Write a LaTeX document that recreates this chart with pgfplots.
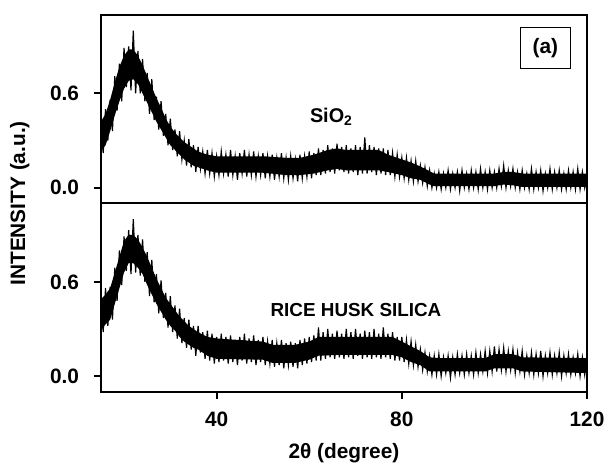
\documentclass[border=0pt]{standalone}
\usepackage{fontspec}
\setmainfont{Liberation Sans}
\usepackage{pgfplots}
\pgfplotsset{compat=1.18}
\usepgfplotslibrary{fillbetween}

% solid core of each noisy trace (upper / lower edge)
\pgfplotstableread{
x top bot
15 .42 .23
16 .47 .27
17 .56 .36
18 .67 .46
19 .77 .55
20 .84 .63
21 .88 .68
22 .88 .69
23 .84 .66
24 .78 .60
25 .71 .54
26 .64 .48
27 .57 .42
28 .51 .37
29 .44 .32
30 .39 .27
31 .35 .24
32 .32 .21
33 .29 .18
34 .27 .16
35 .25 .14
36 .23 .13
38 .21 .11
40 .20 .095
50 .20 .095
55 .19 .08
58 .19 .08
61 .21 .09
64 .24 .11
66 .25 .12
68 .24 .11
75 .24 .11
77 .21 .10
80 .18 .08
82 .16 .06
84 .135 .05
86 .105 .02
87 .09 .01
100 .09 .01
102 .10 .02
104 .10 .015
106 .09 .005
120 .09 .005
}\sioCore

\pgfplotstableread{
x top bot
15 .49 .29
16 .52 .33
17 .56 .36
18 .66 .46
19 .76 .56
20 .86 .66
21 .90 .72
22 .90 .72
23 .87 .69
24 .82 .65
25 .76 .58
26 .69 .52
27 .62 .46
28 .56 .41
29 .50 .36
30 .46 .32
31 .42 .29
32 .38 .25
33 .35 .22
34 .32 .20
35 .30 .18
36 .28 .17
38 .25 .13
40 .24 .11
50 .22 .105
52 .20 .085
57 .20 .085
60 .22 .105
62 .25 .13
66 .25 .135
78 .25 .135
80 .22 .12
82 .19 .09
84 .16 .07
86 .12 .03
88 .115 .03
98 .115 .03
100 .14 .05
104 .14 .05
106 .12 .03
120 .115 .02
}\rhsCore

% the noise around it: alternate peaks and dips
\pgfplotstableread{
x y
15.0 .43
15.5 .22
16.0 .50
16.5 .30
17.0 .56
17.5 .36
18.0 .71
18.5 .49
19.0 .79
19.5 .55
20.0 .89
20.5 .64
21.0 .90
21.5 .62
22.0 1.00
22.5 .60
23.0 .87
23.5 .60
24.0 .82
24.5 .55
25.0 .73
25.5 .47
26.0 .69
26.5 .43
27.0 .58
27.5 .37
28.0 .55
28.5 .33
29.0 .47
29.5 .27
30.0 .44
30.5 .24
31.0 .37
31.5 .20
32.0 .36
32.5 .18
33.0 .30
33.5 .14
34.0 .31
34.5 .13
35.0 .27
35.5 .10
36.0 .26
36.5 .12
37.0 .23
37.5 .09
38.0 .24
38.5 .09
39.0 .22
39.5 .07
40.0 .20
40.5 .08
41.0 .23
41.5 .09
42.0 .21
42.5 .07
43.0 .24
43.5 .08
44.0 .20
44.5 .05
45.0 .22
45.5 .09
46.0 .24
46.5 .07
47.0 .21
47.5 .08
48.0 .23
48.5 .07
49.0 .20
49.5 .08
50.0 .22
50.5 .06
51.0 .20
51.5 .07
52.0 .21
52.5 .05
53.0 .19
53.5 .07
54.0 .22
54.5 .06
55.0 .19
55.5 .05
56.0 .20
56.5 .06
57.0 .18
57.5 .04
58.0 .21
58.5 .06
59.0 .20
59.5 .07
60.0 .23
60.5 .06
61.0 .22
61.5 .08
62.0 .25
62.5 .08
63.0 .24
63.5 .09
64.0 .27
64.5 .10
65.0 .25
65.5 .09
66.0 .28
66.5 .11
67.0 .26
67.5 .10
68.0 .27
68.5 .09
69.0 .25
69.5 .10
70.0 .27
70.5 .08
71.0 .26
71.5 .09
72.0 .32
72.5 .09
73.0 .27
73.5 .10
74.0 .26
74.5 .08
75.0 .25
75.5 .09
76.0 .25
76.5 .08
77.0 .24
77.5 .08
78.0 .22
78.5 .07
79.0 .21
79.5 .07
80.0 .19
80.5 .06
81.0 .19
81.5 .05
82.0 .17
82.5 .04
83.0 .17
83.5 .04
84.0 .14
84.5 .03
85.0 .13
85.5 .01
86.0 .11
86.5 .00
87.0 .09
87.5 .00
88.0 .10
88.5 -.01
89.0 .09
89.5 .00
90.0 .11
90.5 -.01
91.0 .09
91.5 .00
92.0 .10
92.5 -.02
93.0 .11
93.5 .00
94.0 .09
94.5 -.01
95.0 .11
95.5 .00
96.0 .10
96.5 -.01
97.0 .12
97.5 .00
98.0 .10
98.5 -.01
99.0 .11
99.5 .00
100.0 .10
100.5 .00
101.0 .12
101.5 .01
102.0 .14
102.5 .00
103.0 .11
103.5 .01
104.0 .12
104.5 .00
105.0 .10
105.5 -.01
106.0 .11
106.5 .00
107.0 .09
107.5 -.01
108.0 .12
108.5 -.01
109.0 .10
109.5 .00
110.0 .11
110.5 -.02
111.0 .09
111.5 .00
112.0 .12
112.5 -.01
113.0 .10
113.5 .00
114.0 .11
114.5 -.01
115.0 .09
115.5 -.01
116.0 .11
116.5 .00
117.0 .10
117.5 -.01
118.0 .12
118.5 -.01
119.0 .10
119.5 .00
120.0 .09
}\sioNoise

\pgfplotstableread{
x y
15.0 .51
15.5 .28
16.0 .56
16.5 .32
17.0 .57
17.5 .36
18.0 .69
18.5 .48
19.0 .80
19.5 .58
20.0 .89
20.5 .67
21.0 .93
21.5 .65
22.0 1.00
22.5 .66
23.0 .90
23.5 .64
24.0 .87
24.5 .60
25.0 .79
25.5 .51
26.0 .74
26.5 .47
27.0 .65
27.5 .40
28.0 .61
28.5 .37
29.0 .53
29.5 .31
30.0 .51
30.5 .28
31.0 .45
31.5 .24
32.0 .43
32.5 .21
33.0 .37
33.5 .18
34.0 .36
34.5 .17
35.0 .32
35.5 .13
36.0 .32
36.5 .15
37.0 .28
37.5 .11
38.0 .29
38.5 .10
39.0 .27
39.5 .08
40.0 .25
40.5 .09
41.0 .27
41.5 .10
42.0 .25
42.5 .08
43.0 .26
43.5 .09
44.0 .23
44.5 .07
45.0 .25
45.5 .10
46.0 .27
46.5 .08
47.0 .24
47.5 .09
48.0 .26
48.5 .07
49.0 .23
49.5 .09
50.0 .25
50.5 .07
51.0 .22
51.5 .08
52.0 .23
52.5 .06
53.0 .21
53.5 .07
54.0 .23
54.5 .05
55.0 .21
55.5 .07
56.0 .22
56.5 .06
57.0 .21
57.5 .05
58.0 .23
58.5 .07
59.0 .24
59.5 .08
60.0 .25
60.5 .09
61.0 .26
61.5 .10
62.0 .31
62.5 .10
63.0 .28
63.5 .11
64.0 .30
64.5 .12
65.0 .27
65.5 .11
66.0 .29
66.5 .12
67.0 .27
67.5 .11
68.0 .30
68.5 .12
69.0 .28
69.5 .11
70.0 .30
70.5 .13
71.0 .27
71.5 .11
72.0 .29
72.5 .12
73.0 .28
73.5 .11
74.0 .30
74.5 .12
75.0 .27
75.5 .11
76.0 .31
76.5 .12
77.0 .27
77.5 .11
78.0 .28
78.5 .10
79.0 .25
79.5 .10
80.0 .25
80.5 .09
81.0 .23
81.5 .08
82.0 .22
82.5 .07
83.0 .20
83.5 .06
84.0 .17
84.5 .04
85.0 .15
85.5 .03
86.0 .13
86.5 .01
87.0 .13
87.5 .01
88.0 .14
88.5 .00
89.0 .12
89.5 .02
90.0 .13
90.5 -.01
91.0 .12
91.5 .01
92.0 .14
92.5 .02
93.0 .13
93.5 .01
94.0 .14
94.5 .02
95.0 .13
95.5 .01
96.0 .15
96.5 .02
97.0 .14
97.5 .03
98.0 .16
98.5 .02
99.0 .16
99.5 .03
100.0 .19
100.5 .03
101.0 .17
101.5 .04
102.0 .18
102.5 .03
103.0 .16
103.5 .04
104.0 .17
104.5 .02
105.0 .15
105.5 .03
106.0 .16
106.5 .01
107.0 .13
107.5 .02
108.0 .15
108.5 .01
109.0 .14
109.5 .02
110.0 .16
110.5 .00
111.0 .13
111.5 .02
112.0 .15
112.5 .01
113.0 .13
113.5 .02
114.0 .15
114.5 .00
115.0 .13
115.5 .02
116.0 .14
116.5 .01
117.0 .12
117.5 .02
118.0 .14
118.5 .00
119.0 .12
119.5 .01
120.0 .13
}\rhsNoise

\pgfplotsset{
  panel/.style={
    scale only axis, width=245pt, height=95pt,
    xmin=15, xmax=120, ymin=-0.1, ymax=1.1,
    ytick={0,0.6}, ytick pos=left, xtick pos=bottom,
    tick align=outside, major tick length=3.5pt,
    axis line style={line width=1pt}, tick style={line width=1pt, black},
    /pgf/number format/assume math mode=true,
    tick label style={font=\bfseries\fontsize{10.5}{12}\selectfont},
    yticklabel style={/pgf/number format/fixed, /pgf/number format/fixed zerofill,
                      /pgf/number format/precision=1, xshift=-4pt},
    clip=false,
  },
}

\begin{document}
\begin{tikzpicture}

\begin{axis}[panel, at={(0,95pt)}, xtick=\empty]
\addplot[draw=none, name path=a] table[x=x, y=top] {\sioCore};
\addplot[draw=none, name path=b] table[x=x, y=bot] {\sioCore};
\addplot[black] fill between[of=a and b];
\addplot[black, line width=0.6pt] table[x=x, y=y] {\sioNoise};
\node[font=\bfseries\fontsize{10}{12}\selectfont] at (axis cs:64.8,0.45) {SiO\textsubscript{2}};
\node[draw, line width=0.6pt, minimum width=25pt, minimum height=20.5pt,
      font=\bfseries\fontsize{10.5}{12}\selectfont] at (axis cs:111,0.89) {(a)};
\end{axis}

\begin{axis}[panel, at={(0,0)}, xtick={40,80,120},
    xticklabel style={yshift=-3pt},
    xlabel={\bfseries\fontsize{10.5}{12}\selectfont 2θ (degree)},
    xlabel style={yshift=-1.5pt}]
\addplot[draw=none, name path=c] table[x=x, y=top] {\rhsCore};
\addplot[draw=none, name path=d] table[x=x, y=bot] {\rhsCore};
\addplot[black] fill between[of=c and d];
\addplot[black, line width=0.6pt] table[x=x, y=y] {\rhsNoise};
\node[font=\bfseries\fontsize{9.5}{12}\selectfont] at (axis cs:70.1,0.42) {RICE HUSK SILICA};
\end{axis}

\node[rotate=90, font=\bfseries\fontsize{10.5}{12}\selectfont] at (-40.85pt,95pt) {INTENSITY (a.u.)};
\path (-50.85pt,-35.5pt) rectangle (254.65pt,197.5pt);
\end{tikzpicture}
\end{document}
